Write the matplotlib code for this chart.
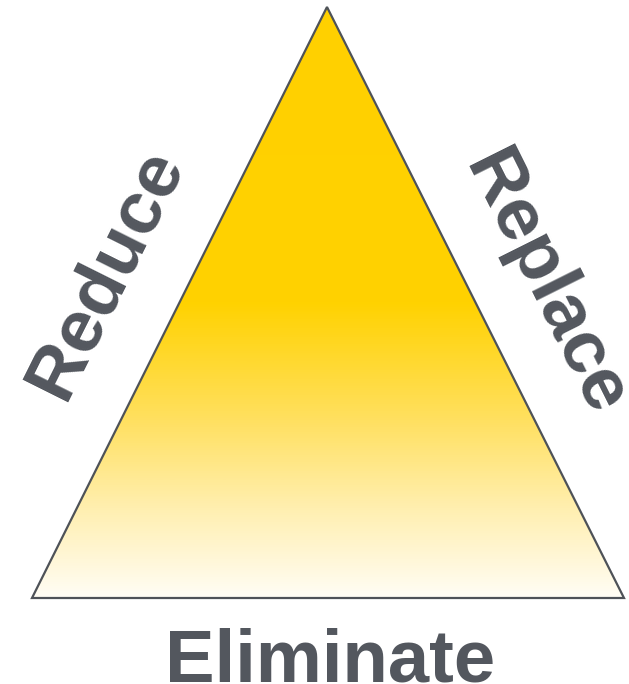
import numpy as np
import matplotlib
matplotlib.use("Agg")
import matplotlib.pyplot as plt
from matplotlib.patches import Polygon
from matplotlib.colors import LinearSegmentedColormap

# Data
labels = ["Reduce", "Replace", "Eliminate"]
apex = (327, 7)
base_left = (32, 598)
base_right = (624, 598)
# gradient stops: (fraction from top to bottom, colour)
grad_pos = [0.0, 0.5, 0.7, 0.85, 1.0]
grad_col = ["#FFD000", "#FFD200", "#FFE060", "#FFEFB0", "#FFFDF5"]

text_color = "#53575E"
edge_color = "#4E5258"

W, H = 629, 684
fig = plt.figure(figsize=(W / 100, H / 100), dpi=100)
ax = fig.add_axes([0, 0, 1, 1])
ax.set_xlim(0, W)
ax.set_ylim(H, 0)
ax.axis("off")

cmap = LinearSegmentedColormap.from_list("g", list(zip(grad_pos, grad_col)))
top, bot = apex[1], base_left[1]
grad = np.linspace(0, 1, 512).reshape(-1, 1)
im = ax.imshow(grad, cmap=cmap, extent=(base_left[0], base_right[0], bot, top),
               aspect="auto", origin="upper", zorder=1)
tri = Polygon([apex, base_left, base_right], closed=True, facecolor="none",
              edgecolor=edge_color, linewidth=1.6, joinstyle="miter", zorder=2)
ax.add_patch(tri)
im.set_clip_path(tri)

ang = np.degrees(np.arctan2(base_left[1] - apex[1], apex[0] - base_left[0]))
font = dict(family="Liberation Sans", weight="bold", size=53.5, color=text_color)
ax.text(106, 273, labels[0], rotation=ang, ha="center", va="center",
        rotation_mode="anchor", **font)
ax.text(544, 284, labels[1], rotation=-ang, ha="center", va="center",
        rotation_mode="anchor", **font)
ax.text(330, 681, labels[2], ha="center", va="baseline", **font)

fig.savefig("out.png", dpi=100)
